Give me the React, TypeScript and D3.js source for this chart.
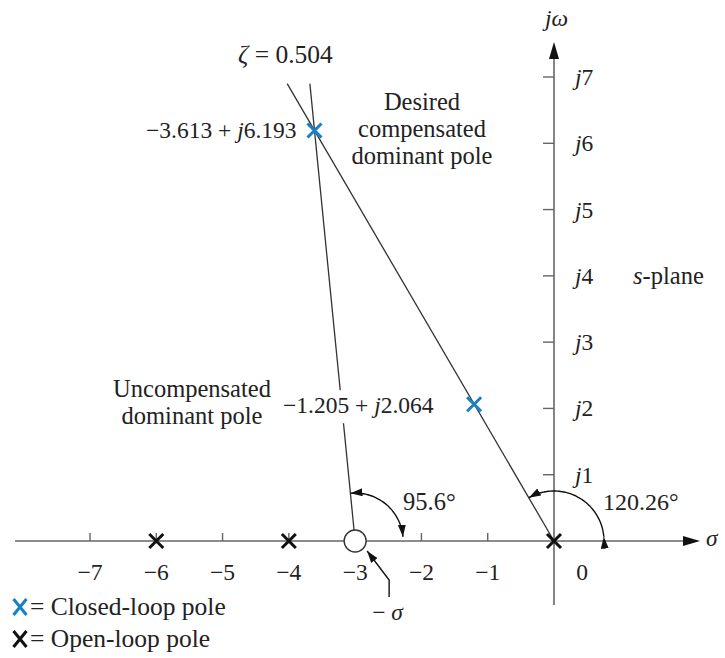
import React from 'react';
import * as d3 from 'd3';

// real-axis and jw-axis ticks
const realTicks = [-7, -6, -5, -4, -3, -2, -1];
const imagTicks = [1, 2, 3, 4, 5, 6, 7];

// open-loop poles and the compensator zero (on the real axis)
const openLoopPoles = [-6, -4, 0];
const compZero = [-3];

// closed-loop poles
const closedPoleRe = [-3.613, -1.205];
const closedPoleIm = [6.193, 2.064];
const closedPoleLabels = ['−3.613 + ', '−1.205 + '];
const closedPoleLabelsJ = ['6.193', '2.064'];

// angle annotations (degrees)
const angleValues = [95.6, 120.26];
const angleLabels = ['95.6°', '120.26°'];

const zetaLabel = '0.504';

const BLUE = '#1b7fc4';
const LINE = '#333';
const AXIS = '#666';
const FONT = 'Liberation Serif';

const x = d3.scaleLinear().domain([-7, 0]).range([90, 554]);
const y = d3.scaleLinear().domain([0, 7]).range([541, 77]);
const topIm = 6.9;

function Cross({ cx, cy, color, hw = 7, hh = 7 }: { cx: number; cy: number; color: string; hw?: number; hh?: number }) {
  return (
    <path
      d={`M${cx - hw},${cy - hh} L${cx + hw},${cy + hh} M${cx - hw},${cy + hh} L${cx + hw},${cy - hh}`}
      stroke={color} strokeWidth={3} fill="none" />
  );
}

function T({ x: px, y: py, anchor, size = 23.5, children }: any) {
  return (
    <text x={px} y={py} fontFamily={FONT} fontSize={size} fill="#222" textAnchor={anchor || 'start'}>
      {children}
    </text>
  );
}

const I = ({ children }: any) => <tspan fontStyle="italic">{children}</tspan>;

export default function App() {
  const y0 = y(0);
  const slope0 = closedPoleRe[0] / closedPoleIm[0];
  const slopeZ = (closedPoleRe[0] - compZero[0]) / closedPoleIm[0];
  const zx = x(compZero[0]);

  const arcs = [
    { cx: x(compZero[0]), r: 48, a: angleValues[0] },
    { cx: x(0), r: 50, a: angleValues[1] },
  ].map(a => {
    const pts: [number, number][] = d3.range(a.a, 4, -2).concat([5]).map(t => {
      const rad = (t * Math.PI) / 180;
      return [a.cx + a.r * Math.cos(rad), y0 - a.r * Math.sin(rad)];
    });
    return d3.line().curve(d3.curveBasis)(pts) as string;
  });

  const labelPos = [
    { x: 146, y: y(closedPoleIm[0]) + 8, w: 146 },
    { x: 283, y: y(closedPoleIm[1]) + 9, w: 162 },
  ];

  return (
    <div>
      <svg width={725} height={658} style={{ position: 'absolute', left: 0, top: 0, background: '#fff' }}>
        <defs>
          <marker id="arr" viewBox="0 0 12 8" refX={12} refY={4} markerWidth={12} markerHeight={8}
            markerUnits="userSpaceOnUse" orient="auto-start-reverse">
            <path d="M0,0 L12,4 L0,8 Z" fill="#111" />
          </marker>
        </defs>

        {/* axes */}
        <line x1={15} x2={685} y1={y0} y2={y0} stroke={AXIS} strokeWidth={1.6} />
        <path d={`M683,${y0 - 5} L700,${y0} L683,${y0 + 5} Z`} fill="#111" />
        <line x1={x(0)} x2={x(0)} y1={605} y2={58} stroke={AXIS} strokeWidth={1.6} />
        <path d={`M${x(0) - 5},59 L${x(0)},42 L${x(0) + 5},59 Z`} fill="#111" />

        {realTicks.map(d => (
          <line key={'xt' + d} x1={x(d)} x2={x(d)} y1={y0} y2={y0 - 8} stroke={AXIS} strokeWidth={1.4} />
        ))}
        {imagTicks.map(d => (
          <line key={'yt' + d} x1={x(0) - 11} x2={x(0)} y1={y(d)} y2={y(d)} stroke={AXIS} strokeWidth={1.4} />
        ))}

        {realTicks.map(d => (
          <T key={'xl' + d} x={x(d)} y={y0 + 39} anchor="middle">{'−' + Math.abs(d)}</T>
        ))}
        <T x={x(0) + 28} y={y0 + 39} anchor="middle">0</T>
        {imagTicks.map(d => (
          <T key={'yl' + d} x={x(0) + 21} y={y(d) + 8}><I>j</I>{String(d)}</T>
        ))}

        <T x={706} y={y0 + 5}><I>σ</I></T>
        <T x={545} y={26}><I>jω</I></T>
        <T x={633} y={y(4) + 8} size={24.5}><I>s</I>-plane</T>

        {/* constant-zeta line and line from the zero */}
        <line x1={x(0)} y1={y0} x2={x(slope0 * topIm)} y2={y(topIm)} stroke={LINE} strokeWidth={1.3} />
        <line x1={zx} y1={y0} x2={x(compZero[0] + slopeZ * topIm)} y2={y(topIm)} stroke={LINE} strokeWidth={1.3} />

        {/* angle arcs */}
        {arcs.map((d, i) => (
          <path key={'arc' + i} d={d} fill="none" stroke="#111" strokeWidth={1.4}
            markerStart="url(#arr)" markerEnd="url(#arr)" />
        ))}
        <T x={403} y={510} size={24.5}>{angleLabels[0]}</T>
        <T x={603} y={510} size={24}>{angleLabels[1]}</T>

        {/* zero */}
        {compZero.map(d => (
          <circle key={'z' + d} cx={x(d)} cy={y0} r={11} fill="#fff" stroke={LINE} strokeWidth={1.4} />
        ))}

        {/* -sigma pointer */}
        <path d={`M${zx + 34},597 L${zx + 34},580 L${zx + 12},551`} fill="none" stroke="#111"
          strokeWidth={1.4} markerEnd="url(#arr)" />
        <T x={zx + 17} y={620}>{'− '}<I>σ</I></T>

        {/* poles */}
        {openLoopPoles.map(p => <Cross key={'op' + p} cx={x(p)} cy={y0} color="#111" />)}
        {closedPoleRe.map((re, i) => <Cross key={'cp' + i} cx={x(re)} cy={y(closedPoleIm[i])} color={BLUE} />)}

        {labelPos.map((p, i) => (
          <g key={'pl' + i}>
            <rect x={p.x - 2} y={p.y - 23} width={p.w} height={33} fill="#fff" />
            <T x={p.x} y={p.y}>
              {closedPoleLabels[i]}<I>j</I>{closedPoleLabelsJ[i]}
            </T>
          </g>
        ))}

        <T x={238} y={63} size={25.5}><I>ζ</I>{' = ' + zetaLabel}</T>

        {['Desired', 'compensated', 'dominant pole'].map((s, i) => (
          <T key={s + i} x={422} y={110 + i * 27} anchor="middle" size={24.5}>{s}</T>
        ))}
        {['Uncompensated', 'dominant pole'].map((s, i) => (
          <T key={'u' + s + i} x={192} y={397 + i * 27} anchor="middle" size={24.5}>{s}</T>
        ))}

        {/* legend */}
        <Cross cx={20} cy={607} color={BLUE} hw={6.5} hh={8} />
        <T x={30} y={615} size={25.5}>= Closed-loop pole</T>
        <Cross cx={20} cy={639} color="#111" hw={6.5} hh={8} />
        <T x={30} y={647} size={25.5}>= Open-loop pole</T>
      </svg>
    </div>
  );
}
